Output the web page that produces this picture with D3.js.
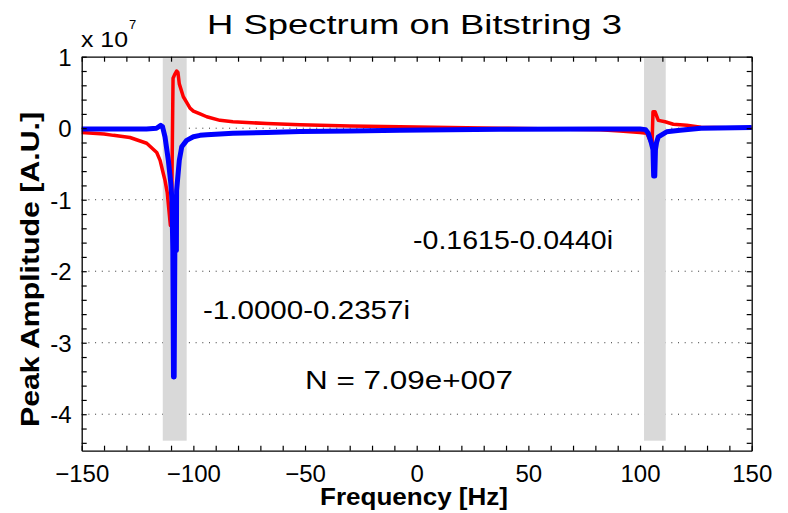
<!DOCTYPE html>
<html lang="en">
<head>
    <meta charset="UTF-8">
    <title>H Spectrum on Bitstring 3</title>
    <script src="https://cdnjs.cloudflare.com/ajax/libs/d3/7.9.0/d3.min.js"></script>
    <style>
        body { margin: 0; background: #fff; }
        svg { display: block; font-family: "Liberation Sans", Arial, sans-serif; }
    </style>
</head>
<body>
    <svg width="788" height="513"></svg>

    <script>
        // values are in units of 1e7 (as shown on the axis)
        const redHz  = [-150, -140, -135.8, -128.4, -120.9, -116.4, -114.9, -113.5, -112.7, -111.7, -110.3, -109.8,
                        -109.1, -108.2, -107.5, -106.9, -106.3, -104.5, -103.0, -101.5, -100.0, -97.0, -94.0, -88.1,
                        -82.3, -67.0, -52.2, -29.9, -7.5, 37.3, 82.1, 91.0, 100.0, 103.0, 104.8, 105.4, 105.8, 106.7,
                        108.2, 111.2, 114.9, 120.9, 127.3, 150];
        const redAmp = [-0.06, -0.08, -0.10, -0.13, -0.21, -0.34, -0.45, -0.63, -0.73, -0.90, -1.36, -1.36,
                        0.70, 0.76, 0.80, 0.78, 0.62, 0.44, 0.36, 0.28, 0.24, 0.20, 0.16, 0.11,
                        0.09, 0.065, 0.05, 0.03, 0.02, 0.0, -0.02, -0.04, -0.06, -0.07, -0.19, -0.22, 0.23, 0.23,
                        0.11, 0.09, 0.056, 0.04, 0.015, 0.0];

        const blueHz  = [-150, -130, -121, -116.5, -114.6, -113.8, -112.7, -111.2, -110.1, -109.6, -109.2, -108.9,
                         -108.6, -108.3, -107.6, -107.5, -106.3, -105.2, -103.0, -100.0, -97.0, -94.0, -88.1,
                         -82.3, -67.0, -52.2, -29.9, -7.5, 37.3, 82.1, 100.0, 102.5, 103.7, 105.0, 105.8, 106.1,
                         106.6, 106.9, 107.4, 108.2, 111.9, 117.9, 127.3, 150];
        const blueAmp = [-0.01, -0.01, -0.01, 0.0, 0.04, 0.02, -0.12, -0.45, -0.77, -1.0, -1.71, -3.48,
                         -3.48, -1.71, -1.71, -0.87, -0.45, -0.26, -0.17, -0.12, -0.10, -0.09, -0.08,
                         -0.07, -0.06, -0.045, -0.04, -0.03, -0.015, -0.01, -0.01, -0.02, -0.07, -0.2, -0.3, -0.67,
                         -0.67, -0.3, -0.2, -0.12, -0.05, -0.03, 0.0, 0.01];

        // shaded windows around the two peaks [from, to] in Hz
        const bandHz = [[-113.7, -103.0], [101.8, 111.5]];
        const bandAmp = [-4.37, 0.98];

        const gridAmp = [0, -1, -2, -3, -4];
        const xTicks = d3.range(-150, 151, 10);
        const xLabels = [-150, -100, -50, 0, 50, 100, 150];
        const yTicks = d3.range(-4.4, 1.01, 0.2).map(v => Math.round(v * 10) / 10);
        const yLabels = [1, 0, -1, -2, -3, -4];

        const title = "H Spectrum on Bitstring 3";
        const xTitle = "Frequency [Hz]";
        const yTitle = "Peak Amplitude [A.U.]";
        const notes = [
            { text: "-0.1615-0.0440i", x: 413, y: 249, w: 200 },
            { text: "-1.0000-0.2357i", x: 203, y: 319, w: 207 },
            { text: "N = 7.09e+007", x: 305, y: 389, w: 208 }
        ];

        const svg = d3.select("svg");
        const pL = 81.7, pR = 751.7, pT = 56.7, pB = 450.7;

        const x = d3.scaleLinear().domain([-150, 150]).range([pL, pR]);
        const y = d3.scaleLinear().domain([-4.51, 1]).range([pB, pT]);

        // dotted grid
        svg.selectAll(".grid")
            .data(gridAmp)
            .enter().append("line")
            .attr("class", "grid")
            .attr("x1", pL).attr("x2", pR)
            .attr("y1", d => y(d)).attr("y2", d => y(d))
            .attr("stroke", "#333")
            .attr("stroke-width", 1)
            .attr("stroke-dasharray", "1,5.7");

        // gray bands
        svg.selectAll(".band")
            .data(bandHz)
            .enter().append("rect")
            .attr("class", "band")
            .attr("x", d => x(d[0]))
            .attr("width", d => x(d[1]) - x(d[0]))
            .attr("y", y(bandAmp[1]))
            .attr("height", y(bandAmp[0]) - y(bandAmp[1]))
            .attr("fill", "#d9d9d9");

        const line = d3.line()
            .x(d => x(d[0]))
            .y(d => y(d[1]));

        svg.append("path")
            .datum(d3.zip(redHz, redAmp))
            .attr("d", line)
            .attr("fill", "none")
            .attr("stroke", "#ff0000")
            .attr("stroke-width", 3.5)
            .attr("stroke-linejoin", "round");

        svg.append("path")
            .datum(d3.zip(blueHz, blueAmp))
            .attr("d", line)
            .attr("fill", "none")
            .attr("stroke", "#0000ff")
            .attr("stroke-width", 5)
            .attr("stroke-linejoin", "round");

        // axes box with inward ticks
        const fmtX = d => xLabels.includes(d) ? String(d).replace("-", "\u2212") : "";
        const fmtY = d => yLabels.includes(d) ? d : "";

        const axes = [
            svg.append("g").attr("transform", `translate(0,${pB})`)
                .call(d3.axisBottom(x).tickValues(xTicks).tickSize(-5).tickSizeOuter(0).tickFormat(fmtX)),
            svg.append("g").attr("transform", `translate(0,${pT})`)
                .call(d3.axisTop(x).tickValues(xTicks).tickSize(-5).tickSizeOuter(0).tickFormat("")),
            svg.append("g").attr("transform", `translate(${pL},0)`)
                .call(d3.axisLeft(y).tickValues(yTicks).tickSize(-5).tickSizeOuter(0).tickFormat(fmtY)),
            svg.append("g").attr("transform", `translate(${pR},0)`)
                .call(d3.axisRight(y).tickValues(yTicks).tickSize(-5).tickSizeOuter(0).tickFormat(""))
        ];
        axes.forEach(g => {
            g.select(".domain").attr("stroke", "#000").attr("stroke-width", 1.3);
            g.selectAll(".tick line").attr("stroke", "#000").attr("stroke-width", 1.2);
            g.selectAll(".tick text")
                .attr("font-family", "Liberation Sans, Arial, sans-serif")
                .attr("font-size", 24)
                .attr("fill", "#000");
        });
        axes[0].selectAll(".tick text").attr("y", 14).attr("dy", "0.71em");
        axes[2].selectAll(".tick text").attr("x", -10).attr("dy", "0.35em");

        // titles
        svg.append("text")
            .attr("x", 207).attr("y", 34)
            .attr("font-size", 27)
            .attr("textLength", 415)
            .attr("lengthAdjust", "spacingAndGlyphs")
            .text(title);

        svg.append("text")
            .attr("x", 81).attr("y", 47)
            .attr("font-size", 22)
            .attr("textLength", 47)
            .attr("lengthAdjust", "spacingAndGlyphs")
            .text("x 10");
        svg.append("text")
            .attr("x", 129).attr("y", 29)
            .attr("font-size", 13)
            .text("7");

        svg.append("text")
            .attr("x", 320).attr("y", 505)
            .attr("font-size", 23)
            .attr("font-weight", "bold")
            .attr("textLength", 188)
            .attr("lengthAdjust", "spacingAndGlyphs")
            .text(xTitle);

        svg.append("text")
            .attr("transform", "translate(39,427) rotate(-90)")
            .attr("font-size", 25)
            .attr("font-weight", "bold")
            .attr("textLength", 315)
            .attr("lengthAdjust", "spacingAndGlyphs")
            .text(yTitle);

        svg.selectAll(".note")
            .data(notes)
            .enter().append("text")
            .attr("class", "note")
            .attr("x", d => d.x).attr("y", d => d.y)
            .attr("font-size", 25)
            .attr("textLength", d => d.w)
            .attr("lengthAdjust", "spacingAndGlyphs")
            .text(d => d.text);
    </script>
</body>
</html>
